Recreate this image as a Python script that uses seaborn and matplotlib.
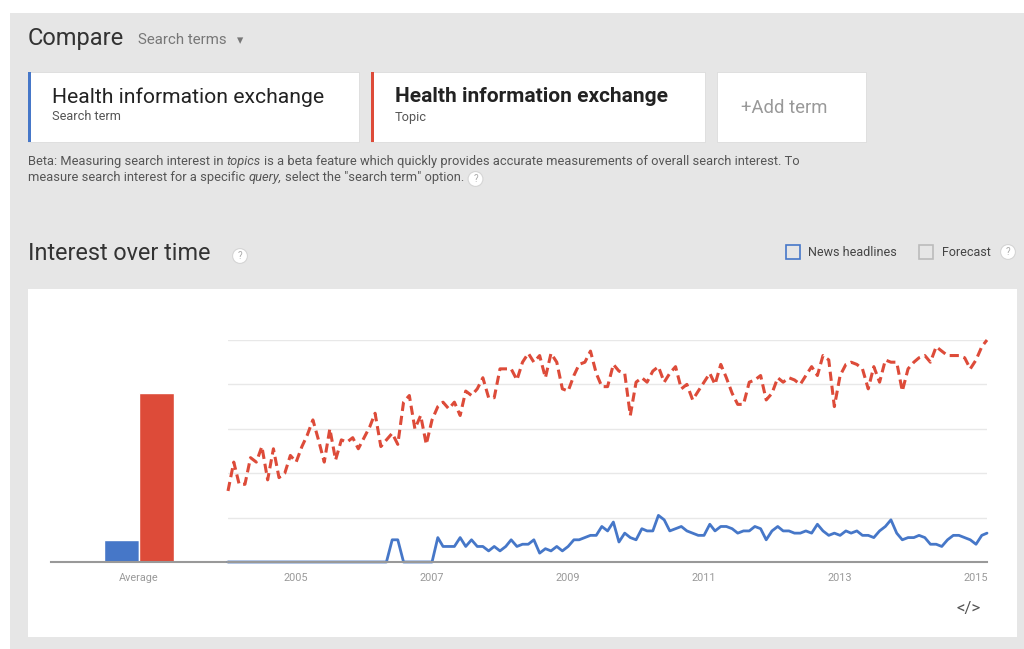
import numpy as np
import pandas as pd
import matplotlib
matplotlib.use("Agg")
import matplotlib.pyplot as plt
import seaborn as sns
from matplotlib.patches import Rectangle

# monthly interest, Jan 2004 - Mar 2015
months = pd.date_range("2004-01-01", periods=135, freq="MS")

search_term = [0, 0, 0, 0, 0, 0, 0, 0, 0, 0, 0, 0, 0, 0, 0, 0, 0, 0, 0, 0,
               0, 0, 0, 0, 0, 0, 0, 0, 0, 10, 10, 0, 0, 0, 0, 0, 0, 11, 7, 7,
               7, 11, 7, 10, 7, 7, 5, 7, 5, 7, 10, 7, 8, 8, 10, 4, 6, 5, 7, 5,
               7, 10, 10, 11, 12, 12, 16, 14, 18, 9, 13, 11, 10, 15, 14, 14, 21, 19, 14, 15,
               16, 14, 13, 12, 12, 17, 14, 16, 16, 15, 13, 14, 14, 16, 15, 10, 14, 16, 14, 14,
               13, 13, 14, 13, 17, 14, 12, 13, 12, 14, 13, 14, 12, 12, 11, 14, 16, 19, 13, 10,
               11, 11, 12, 11, 8, 8, 7, 10, 12, 12, 11, 10, 8, 12, 13]

topic = [32, 45, 35, 35, 47, 45, 52, 37, 51, 38, 40, 48, 45, 52, 57, 64, 55, 45, 60, 46,
         55, 54, 56, 51, 56, 61, 67, 52, 55, 58, 53, 72, 75, 60, 66, 53, 64, 70, 72, 69,
         72, 66, 77, 75, 78, 83, 74, 74, 87, 87, 87, 82, 90, 94, 90, 93, 83, 94, 90, 78,
         77, 84, 89, 90, 95, 85, 79, 79, 89, 86, 85, 66, 81, 83, 81, 86, 88, 81, 85, 88,
         78, 80, 73, 77, 81, 85, 80, 89, 83, 76, 71, 71, 81, 82, 84, 73, 76, 83, 81, 83,
         82, 80, 84, 88, 84, 93, 91, 70, 84, 89, 90, 89, 87, 78, 88, 81, 91, 90, 90, 77,
         87, 90, 92, 93, 90, 97, 95, 93, 93, 93, 92, 87, 91, 97, 100]

avg_terms = ["Search term", "Topic"]
avg_values = [10, 76]
year_labels = ["2005", "2007", "2009", "2011", "2013", "2015"]

BLUE = "#4677c8"
RED = "#dd4b39"
BG = "#e6e6e6"

sns.set_style("white")
plt.rcParams["font.family"] = ["Roboto", "DejaVu Sans"]

W, H = 1024, 649
fig = plt.figure(figsize=(W / 100, H / 100), dpi=100)
fig.patch.set_facecolor("white")


def fx(x):
    return x / W


def fy(y):
    return 1 - y / H


def box(x0, y0, x1, y1, fc, ec="none", lw=0, z=-5):
    fig.add_artist(Rectangle((fx(x0), fy(y1)), (x1 - x0) / W, (y1 - y0) / H,
                             transform=fig.transFigure, facecolor=fc,
                             edgecolor=ec, linewidth=lw, zorder=z))


def txt(x, y, s, **kw):
    kw.setdefault("va", "center")
    return fig.text(fx(x), fy(y), s, **kw)


def qmark(x, y):
    txt(x, y, "?", ha="center", fontsize=7, color="#aaa",
        bbox=dict(boxstyle="circle,pad=0.25", fc="white", ec="#d5d5d5", lw=0.8))


# page background
box(10, 13, 1024, 649, BG, z=-10)

# header
txt(28, 38, "Compare", fontsize=17, color="#333")
txt(138, 40, "Search terms", fontsize=10.8, color="#777")
txt(240, 41, "\u25be", fontsize=9, color="#777", ha="center")

# term cards
box(28, 72, 359, 142, "white", ec="#d8d8d8", lw=0.5)
box(28, 72, 31, 142, BLUE, z=-4)
txt(52, 97, "Health information exchange", fontsize=15.2, color="#222")
txt(52, 117, "Search term", fontsize=9.2, color="#555")

box(371, 72, 705, 142, "white", ec="#d8d8d8", lw=0.5)
box(371, 72, 374, 142, RED, z=-4)
txt(395, 97, "Health information exchange", fontsize=15.0, color="#222", weight="bold")
txt(395, 117, "Topic", fontsize=9.2, color="#555")

box(717, 72, 866, 142, "white", ec="#d8d8d8", lw=0.5)
txt(741, 108, "+Add term", fontsize=13.3, color="#999")

# beta note with italic words
rend = fig.canvas.get_renderer()


def rich(x, y, parts, **kw):
    probe = fig.text(0, 0, "x x", **kw)
    probe2 = fig.text(0, 0, "xx", **kw)
    space = probe.get_window_extent(rend).width - probe2.get_window_extent(rend).width
    probe.remove()
    probe2.remove()
    for s, style in parts:
        t = txt(x, y, s, style=style, **kw)
        x += t.get_window_extent(rend).width + space
    return x


note_kw = dict(fontsize=9.3, color="#555")
rich(28, 161, [("Beta: Measuring search interest in", "normal"), ("topics", "italic"),
               ("is a beta feature which quickly provides accurate measurements of overall search interest. To", "normal")],
     **note_kw)
end2 = rich(28, 178, [("measure search interest for a specific", "normal"), ("query,", "italic"),
                      ("select the \"search term\" option.", "normal")], **note_kw)
qmark(end2 + 8, 179)

# interest over time header
txt(28, 254, "Interest over time", fontsize=16.8, color="#333")
qmark(240, 256)
box(786, 245, 800, 259, "none", ec=BLUE, lw=1.2, z=2)
txt(808, 252, "News headlines", fontsize=9, color="#444")
box(919, 245, 933, 259, "none", ec="#bbb", lw=1.2, z=2)
txt(942, 252, "Forecast", fontsize=9, color="#444")
qmark(1008, 252)

# chart card
box(28, 289, 1017, 637, "white")
txt(968, 608, "</>", fontsize=12, color="#555", ha="center")

# average bars
ax_bar = fig.add_axes([fx(51), fy(562), (228 - 51) / W, (562 - 340) / H])
avg_df = pd.DataFrame({"period": ["Average"] * 2, "term": avg_terms, "value": avg_values})
sns.barplot(data=avg_df, x="period", y="value", hue="term", palette=[BLUE, RED],
            saturation=1, width=0.8, edgecolor="white", linewidth=1,
            legend=False, ax=ax_bar)
ax_bar.set_xlim(-1.0, 1.02)
ax_bar.set_ylim(0, 100)
ax_bar.set_facecolor("none")
ax_bar.set_xlabel("")
ax_bar.set_ylabel("")
ax_bar.set_yticks([])
ax_bar.tick_params(axis="x", length=0, pad=8, labelsize=7.8, labelcolor="#999")
for side in ["top", "right", "left"]:
    ax_bar.spines[side].set_visible(False)
ax_bar.spines["bottom"].set_color("#999")
ax_bar.spines["bottom"].set_linewidth(1.5)

# time series
ax = fig.add_axes([fx(228), fy(562), (987 - 228) / W, (562 - 340) / H])
ts = pd.DataFrame({"month": months, "Search term": search_term, "Topic": topic})
sns.lineplot(data=ts, x="month", y="Topic", color=RED, linewidth=2.2,
             linestyle=(0, (3, 1.6)), ax=ax, clip_on=False)
sns.lineplot(data=ts, x="month", y="Search term", color=BLUE, linewidth=2,
             ax=ax, clip_on=False)
ax.set_xlim(months[0], months[-1])
ax.set_ylim(0, 100)
ax.set_facecolor("none")
ax.set_xlabel("")
ax.set_ylabel("")
ax.set_yticks([20, 40, 60, 80, 100])
ax.set_yticklabels([])
ax.yaxis.grid(True, color="#e8e8e8", linewidth=1)
ax.set_axisbelow(True)
ax.set_xticks(pd.to_datetime([y + "-01-01" for y in year_labels]))
ax.set_xticklabels(year_labels)
ax.tick_params(axis="both", length=0)
ax.tick_params(axis="x", pad=8, labelsize=7.8, labelcolor="#999")
for side in ["top", "right", "left"]:
    ax.spines[side].set_visible(False)
ax.spines["bottom"].set_color("#999")
ax.spines["bottom"].set_linewidth(1.5)

fig.savefig("out.png", dpi=100)
